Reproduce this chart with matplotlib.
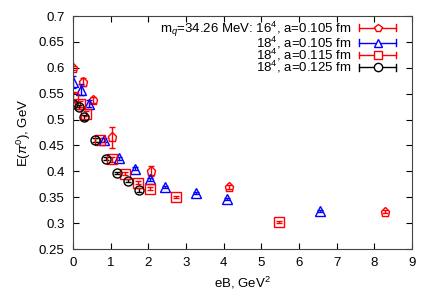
import numpy as np
import matplotlib
matplotlib.use("Agg")
import matplotlib.pyplot as plt
from matplotlib.lines import Line2D
from matplotlib.legend_handler import HandlerBase

plt.rcParams['font.family'] = ['Liberation Sans', 'DejaVu Sans']
plt.rcParams['mathtext.fontset'] = 'custom'
plt.rcParams['mathtext.rm'] = 'Liberation Sans'
plt.rcParams['mathtext.it'] = 'Liberation Sans:italic'

# --- datos ---
# 16^4, a=0.105 fm (pentagonos rojos)
eb16 = [0.0, 0.27, 0.52, 1.04, 2.08, 4.14, 8.28]
e16 = [0.600, 0.573, 0.538, 0.466, 0.401, 0.369, 0.322]
err16 = [0.004, 0.008, 0.006, 0.020, 0.010, 0.004, 0.003]

# 18^4, a=0.105 fm (triangulos azules)
eb18a = [0.0, 0.22, 0.42, 0.82, 1.23, 1.65, 2.05, 2.45, 3.26, 4.09, 6.55]
e18a = [0.573, 0.558, 0.531, 0.461, 0.425, 0.405, 0.385, 0.369, 0.359, 0.346, 0.324]
err18a = [0.012, 0.010, 0.006, 0.004, 0.003, 0.003, 0.003, 0.002, 0.002, 0.002, 0.002]

# 18^4, a=0.115 fm (cuadrados rojos)
eb18b = [0.0, 0.19, 0.35, 0.73, 1.03, 1.38, 1.73, 2.05, 2.74, 5.48]
e18b = [0.544, 0.530, 0.511, 0.460, 0.423, 0.395, 0.378, 0.366, 0.351, 0.302]
err18b = [0.008, 0.006, 0.005, 0.004, 0.004, 0.003, 0.003, 0.003, 0.002, 0.002]

# 18^4, a=0.125 fm (circulos negros)
eb18c = [0.0, 0.16, 0.29, 0.59, 0.88, 1.16, 1.45, 1.74]
e18c = [0.530, 0.525, 0.504, 0.461, 0.424, 0.396, 0.382, 0.364]
err18c = [0.004, 0.004, 0.004, 0.004, 0.003, 0.002, 0.003, 0.003]

etiquetas = ["m$_q$=34.26 MeV: 16$^4$, a=0.105 fm",
             "18$^4$, a=0.105 fm",
             "18$^4$, a=0.115 fm",
             "18$^4$, a=0.125 fm"]


class HandlerBarra(HandlerBase):
    """Muestra de leyenda estilo gnuplot: linea con topes y marcador al medio."""
    def create_artists(self, legend, orig_handle, xdescent, ydescent,
                       width, height, fontsize, trans):
        c = orig_handle.get_color()
        m = orig_handle.get_marker()
        x0 = -xdescent
        x1 = -xdescent + width
        ym = -ydescent + height / 2
        h = 2.5
        linea = Line2D([x0, x1], [ym, ym], color=c, lw=1.0)
        tope1 = Line2D([x0, x0], [ym - h, ym + h], color=c, lw=1.0)
        tope2 = Line2D([x1, x1], [ym - h, ym + h], color=c, lw=1.0)
        marca = Line2D([(x0 + x1) / 2], [ym], marker=m, color=c, mfc="white",
                       mec=c, ms=6.0, mew=1.0, linestyle="none")
        arts = [linea, tope1, tope2, marca]
        for a in arts:
            a.set_transform(trans)
        return arts


fig = plt.figure(figsize=(4.36, 3.05), dpi=100)
ax = fig.add_axes([0.1674, 0.1836, 0.7776, 0.7639])

series = [
    (eb16, e16, err16, "p", "red"),
    (eb18a, e18a, err18a, "^", "blue"),
    (eb18b, e18b, err18b, "s", "red"),
    (eb18c, e18c, err18c, "o", "black"),
]
proxies = []
for (x, y, e, m, c), lab in zip(series, etiquetas):
    ax.errorbar(x, y, yerr=e, fmt=m, color=c, mfc="none", mec=c, ms=6.5,
                mew=1.0, elinewidth=1.0, capsize=2, capthick=1.0)
    proxies.append(Line2D([], [], color=c, marker=m))

ax.set_xlim(0, 9)
ax.set_ylim(0.25, 0.7)
ax.set_xticks(np.arange(0, 10, 1))
ax.set_yticks(np.arange(0.25, 0.701, 0.05))
ax.set_yticklabels(["0.25", "0.3", "0.35", "0.4", "0.45", "0.5", "0.55", "0.6", "0.65", "0.7"])
ax.tick_params(direction="in", top=True, right=True, labelsize=9.5, length=4, pad=6)
for s in ax.spines.values():
    s.set_color("#444444")

ax.set_xlabel("eB, GeV$^2$", fontsize=9.5)
ax.set_ylabel("E($\\pi^0$), GeV", fontsize=9.5)

leg = ax.legend(proxies, etiquetas, handler_map={Line2D: HandlerBarra()},
                loc="upper right", bbox_to_anchor=(0.953, 0.985),
                markerfirst=False, frameon=False, fontsize=9.5,
                handlelength=2.8, handleheight=0.5, labelspacing=-0.3,
                borderaxespad=0.0, handletextpad=0.6, borderpad=0.0)
for t in leg.get_texts():
    t.set_ha("right")
leg._legend_box.align = "right"

fig.savefig("out.png", dpi=100)
